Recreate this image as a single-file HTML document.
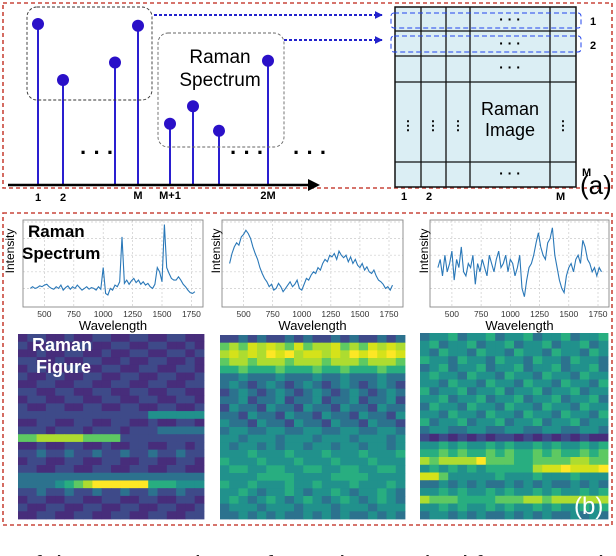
<!DOCTYPE html>
<html><head><meta charset="utf-8"><style>
html,body{margin:0;padding:0;background:#fff}
svg{display:block;font-family:"Liberation Sans",sans-serif}
</style></head><body>
<svg id="fig" width="616" height="556" viewBox="0 0 616 556">
<defs>
<marker id="ah" viewBox="0 0 10 10" refX="9" refY="5" markerWidth="4" markerHeight="4" orient="auto"><path d="M0,0L10,5L0,10z" fill="#2222cc"/></marker>
</defs>
<rect x="3" y="3" width="609" height="185" fill="none" stroke="#c9473c" stroke-width="1.6" stroke-dasharray="4,3"/>
<g id="stems"></g>
<line x1="8" y1="185" x2="312" y2="185" stroke="#000" stroke-width="2.5"/>
<path d="M308,179L320,185L308,191z" fill="#000"/>
<rect x="27" y="7" width="125" height="93" rx="10" fill="none" stroke="#333" stroke-dasharray="3,2" stroke-width="0.9"/>
<rect x="158" y="33" width="126" height="114" rx="10" fill="none" stroke="#666" stroke-dasharray="3,2" stroke-width="0.9"/>
<text x="220" y="63" font-size="19" text-anchor="middle">Raman</text>
<text x="220" y="86" font-size="19" text-anchor="middle">Spectrum</text>
<g font-size="22" font-weight="bold">
<text x="80" y="160">· · ·</text><text x="230" y="160">· · ·</text><text x="293" y="160">· · ·</text></g>
<g font-size="11" font-weight="bold" text-anchor="middle">
<text x="38" y="201">1</text><text x="63" y="201">2</text><text x="138" y="199">M</text><text x="170" y="199">M+1</text><text x="268" y="199">2M</text></g>
<line x1="154" y1="15" x2="382" y2="15" stroke="#2222cc" stroke-width="2" stroke-dasharray="3,2" marker-end="url(#ah)"/>
<line x1="284" y1="40" x2="382" y2="40" stroke="#2222cc" stroke-width="2" stroke-dasharray="3,2" marker-end="url(#ah)"/>
<g>
<rect x="395" y="7" width="181" height="180" fill="#dbeef4" stroke="#111" stroke-width="1.5"/>
<g stroke="#111" stroke-width="1.3">
<line x1="395" y1="31" x2="576" y2="31"/><line x1="395" y1="56" x2="576" y2="56"/><line x1="395" y1="82" x2="576" y2="82"/><line x1="395" y1="162" x2="576" y2="162"/>
<line x1="421" y1="7" x2="421" y2="187"/><line x1="446" y1="7" x2="446" y2="187"/><line x1="470" y1="7" x2="470" y2="187"/><line x1="550" y1="7" x2="550" y2="187"/></g>
<g font-size="14" font-weight="bold" text-anchor="middle"><text x="510" y="24">· · ·</text><text x="510" y="48">· · ·</text><text x="510" y="72">· · ·</text><text x="510" y="178">· · ·</text>
<text x="408" y="130" font-size="13">⋮</text><text x="433" y="130" font-size="13">⋮</text><text x="458" y="130" font-size="13">⋮</text><text x="563" y="130" font-size="13">⋮</text></g>
<text x="510" y="115" font-size="18" text-anchor="middle">Raman</text><text x="510" y="136" font-size="18" text-anchor="middle">Image</text>
</g>
<rect x="391" y="13" width="190" height="15" rx="3" fill="none" stroke="#2244ee" stroke-dasharray="5,3"/>
<rect x="391" y="36" width="190" height="16" rx="3" fill="none" stroke="#2244ee" stroke-dasharray="5,3"/>
<g font-size="11" font-weight="bold"><text x="590" y="25">1</text><text x="590" y="49">2</text><text x="582" y="176">M</text>
<text x="401" y="200">1</text><text x="426" y="200">2</text><text x="556" y="200">M</text></g>
<text x="580" y="194" font-size="26">(a)</text>
<rect x="3" y="213" width="609" height="312" fill="none" stroke="#c9473c" stroke-width="1.6" stroke-dasharray="4,3"/>
<g id="charts"></g>
<g id="maps"></g>
<text x="32" y="351" font-size="18" font-weight="bold" fill="#fff">Raman</text>
<text x="36" y="373" font-size="18" font-weight="bold" fill="#fff">Figure</text>
<text x="28" y="237" font-size="17" font-weight="bold">Raman</text>
<text x="22" y="259" font-size="17" font-weight="bold">Spectrum</text>
<text x="574" y="514" font-size="24" fill="#fff">(b)</text>
<text x="20" y="574" font-size="26" fill="#222">of the proposed transformation method for converting Ra</text>
</svg>
<script>
const stemIdx=[1,2,3,4,5,6,7,8];
const stemVals=[0.92,0.6,0.7,0.91,0.35,0.45,0.31,0.71];
const stemXs=[38,63,115,138,170,193,219,268];
const spec1=[.2,.22,.2,.21,.23,.22,.24,.25,.22,.2,.19,.22,.2,.24,.18,.21,.23,.19,.22,.2,.24,.21,.18,.2,.22,.19,.21,.2,.18,.22,.19,.45,.14,.12,.2,.18,.24,.22,.28,.82,.26,.3,.25,.29,.32,.27,.3,.25,.28,.24,.26,.22,.2,.25,.45,.4,.28,.97,.45,.38,.32,.3,.3,.34,.3,.25,.22,.18,.15,.14,.16];
const spec2=[.5,.62,.7,.75,.72,.82,.85,.9,.86,.8,.7,.62,.55,.45,.38,.32,.28,.22,.25,.18,.2,.26,.22,.16,.2,.24,.28,.22,.25,.3,.2,.18,.25,.32,.3,.36,.4,.38,.45,.42,.5,.55,.52,.6,.58,.62,.55,.65,.6,.57,.6,.52,.58,.5,.55,.48,.45,.5,.42,.46,.4,.38,.42,.35,.3,.28,.25,.2,.22,.18,.24];
const spec3=[.45,.55,.35,.6,.4,.5,.65,.3,.55,.45,.7,.4,.35,.5,.45,.6,.25,.5,.4,.55,.45,.35,.6,.5,.4,.55,.65,.45,.5,.6,.4,.55,.5,.35,.45,.6,.2,.1,.3,.45,.5,.6,.75,.87,.7,.6,.55,.75,.8,.93,.6,.45,.3,.2,.15,.35,.45,.5,.4,.55,.6,.5,.78,.7,.55,.5,.4,.45,.35,.45,.4];
const xTicks=[500,750,1000,1250,1500,1750];
const specStart=380, specStep=20;
const map1=["12211211221122112211","21121122112211221121","11211221121122112212","22112112211211221121","12211221122112211221","21122112211221122112","11221122112211221122","22112211221122112211","12211221122112211221","21122112211221122112","22222222222222444444","11221122112211211221","22212221222122233333","66777776666222222222","11211221121122112212","22322322322322322322","12211221122112211221","22112211221122112211","33333333333333333333","33334567999999555444","22322322322322322322","12211221122112211221","21122112211221122112","11221122112211221122"];
const map2=["22323223232232322323","67687876867786768787","78787989788787989898","67767776777677767776","55655565556556555655","33433343334334333433","34323432343234323432","23432343234323432343","33423342334233423342","24332433243324332433","33243324332433243324","43324332433243324332","34433443344334433443","44344434443444344434","43443434434434434434","44454445444544454445","54445444544454445444","45544554455445544554","44445555444455554444","54454445445444544454","44543445434454344543","45434543454345434543","34443444344434443444","33434343343434334343"];
const map3=["34453445344534453445","45344534453445344534","43544354435443544354","54435443544354435443","34534453445344534453","45443544354435443544","44354435443544354435","53445344534453445344","44534453445344534453","35443544354435443544","44354435443544354435","53445344534453445344","34433443344334433443","21212121221212121211","44545445454454544545","55656556565565655656","76777796665566667766","45454545555578898889","88644444544454445444","33434343343434334343","44545445454454544545","76665555666776777777","44545445454454544545","34434343343434334343"];
const viridis=["#440154","#472d7b","#3e4a89","#2c728e","#21918c","#28ae80","#5ec962","#addc30","#d5e21a","#fde725"];

const NS="http://www.w3.org/2000/svg";
function mk(t,a,p){const e=document.createElementNS(NS,t);for(const k in a)e.setAttribute(k,a[k]);p.appendChild(e);return e;}

const sg=document.getElementById('stems');
const stemY=v=>185-v*175;
stemVals.forEach((v,i)=>{
  const x=stemXs[i];
  const l=mk('line',{x1:x,y1:185,x2:x,y2:stemY(v),stroke:'#2a1fd0','stroke-width':2},sg);
  
  
  const c=mk('circle',{cx:x,cy:stemY(v),r:6,fill:'#2a10c8'},sg);
  
  
});

const charts=[
 {d:spec1,L:23,R:203,x500:44.4,x1750:191.4,ylab:10},
 {d:spec2,L:222,R:403,x500:243.6,x1750:389,ylab:216},
 {d:spec3,L:430,R:609,x500:451.9,x1750:598,ylab:424}];
const cg=document.getElementById('charts');
const T=220,B=307;
charts.forEach((c,ci)=>{
  const g=mk('g',{},cg);
  
  
  const xs=w=>c.x500+(w-500)*(c.x1750-c.x500)/1250;
  const ys=v=>305-v*83;
  xTicks.forEach(t=>{mk('line',{x1:xs(t),y1:T,x2:xs(t),y2:B,stroke:'#ccc','stroke-dasharray':'2,2','stroke-width':0.7},g);
    const tx=mk('text',{x:xs(t),y:B+10,'font-size':8.5,'text-anchor':'middle',fill:'#333'},g);tx.textContent=t;
    
    });
  [0.2,0.4,0.6,0.8,1.0].forEach(v=>mk('line',{x1:c.L,y1:ys(v),x2:c.R,y2:ys(v),stroke:'#ccc','stroke-dasharray':'2,2','stroke-width':0.7},g));
  mk('rect',{x:c.L,y:T,width:c.R-c.L,height:B-T,fill:'none',stroke:'#888','stroke-width':0.9},g);
  const pts=c.d.map((v,i)=>xs(specStart+i*specStep).toFixed(1)+','+ys(v).toFixed(1)).join(' ');
  const pl=mk('polyline',{points:pts,fill:'none',stroke:'#2a78b8','stroke-width':1.1},g);
  
  
  const xl=mk('text',{x:(c.L+c.R)/2,y:330,'font-size':13,'text-anchor':'middle'},g);xl.textContent='Wavelength';
  
  
  const yl=mk('text',{x:0,y:0,'font-size':12,'text-anchor':'middle',transform:`translate(${c.ylab+4},251) rotate(-90)`},g);yl.textContent='Intensity';
  
  
});

const maps=[{m:map1,x:18,y:334,w:186,h:185},{m:map2,x:220,y:335,w:185,h:184},{m:map3,x:420,y:333,w:188,h:186}];
const mg=document.getElementById('maps');
maps.forEach((mp,mi)=>{
  const g=mk('g',{},mg);
  
  
  const rows=mp.m.length, cols=mp.m[0].length, cw=mp.w/cols, rh=mp.h/rows;
  mp.m.forEach((row,r)=>{for(let k=0;k<cols;k++){
    const cell=mk('rect',{x:(mp.x+k*cw).toFixed(2),y:(mp.y+r*rh).toFixed(2),width:(cw+0.4).toFixed(2),height:(rh+0.4).toFixed(2),fill:viridis[+row[k]]},g);
    
    
  }});
});
</script>
</body></html>
